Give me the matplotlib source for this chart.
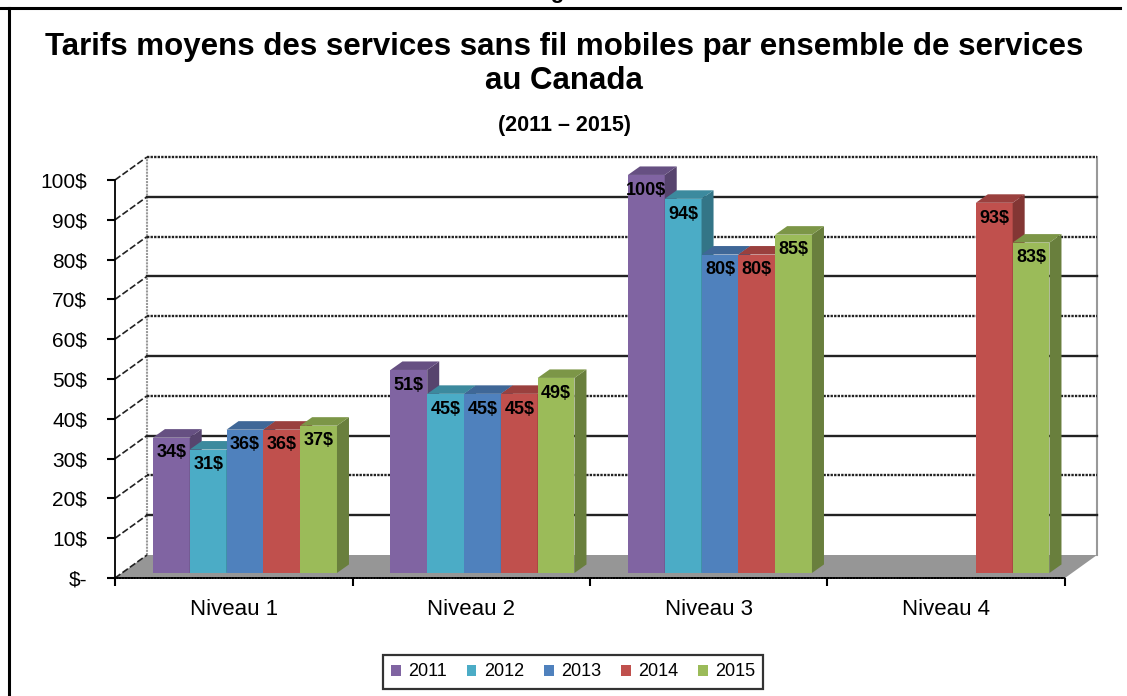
import numpy as np
import matplotlib
matplotlib.use("Agg")
import matplotlib.pyplot as plt
from matplotlib.patches import Polygon, Patch
from matplotlib.colors import to_rgb

plt.rcParams["font.family"] = ["Liberation Sans", "DejaVu Sans"]

# data
levels = ["Niveau 1", "Niveau 2", "Niveau 3", "Niveau 4"]
years = ["2011", "2012", "2013", "2014", "2015"]
tarif_2011 = [34, 51, 100, None]
tarif_2012 = [31, 45, 94, None]
tarif_2013 = [36, 45, 80, None]
tarif_2014 = [36, 45, 80, 93]
tarif_2015 = [37, 49, 85, 83]
series = [tarif_2011, tarif_2012, tarif_2013, tarif_2014, tarif_2015]
colors = ["#8064A2", "#4BACC6", "#4F81BD", "#C0504D", "#9BBB59"]
y_ticks = list(range(0, 101, 10))
y_labels = ["$-"] + [f"{v}$" for v in y_ticks[1:]]

W, H = 1127, 696
fig = plt.figure(figsize=(W / 100, H / 100), dpi=100)

# front plane: x 115..1065 px for 4 categories, y 578..180 px for 0..100
px_per_cat = (1065 - 115) / 4
px_per_val = (578 - 180) / 100
x_max = 4 + (1100 - 1065) / px_per_cat
y_max = (578 - 150) / px_per_val
ax = fig.add_axes([115 / W, (H - 578) / H, (x_max * px_per_cat) / W,
                   (y_max * px_per_val) / H])
ax.set_xlim(0, x_max)
ax.set_ylim(0, y_max)

# depth of the floor / back wall
DX = 32 / px_per_cat
DY = 23 / px_per_val

for s in ["top", "right"]:
    ax.spines[s].set_visible(False)
ax.spines["left"].set_bounds(0, 100)
ax.spines["bottom"].set_bounds(0, 4)
ax.spines["left"].set_linewidth(1.3)
ax.spines["bottom"].set_linewidth(1.3)
ax.spines["bottom"].set_linestyle((0, (1, 0.6)))

ax.set_yticks(y_ticks, labels=y_labels, fontsize=15)
ax.tick_params(axis="y", length=6, width=1.5, pad=14)
ax.set_xticks(range(5), labels=[""] * 5)
ax.set_xticks(np.arange(4) + 0.5, labels=levels, minor=True, fontsize=16)
ax.tick_params(axis="x", which="major", length=6, width=1.5)
ax.tick_params(axis="x", which="minor", length=0, pad=15)

# floor
ax.add_patch(Polygon([(0, 0), (4, 0), (4 + DX, DY), (DX, DY)],
                     closed=True, facecolor="#969696", edgecolor="none",
                     zorder=1))
# back wall edges
ax.plot([DX, DX], [DY, 100 + DY], color="#999999", lw=1.5,
        ls=(0, (1, 0.5)), zorder=1)
ax.plot([4 + DX, 4 + DX], [DY, 100 + DY], color="#999999", lw=1.5, zorder=1)
# gridlines on the back wall and diagonals to the front axis
for i, v in enumerate(y_ticks):
    if v > 0:
        style = (0, (1, 0.5)) if i % 2 == 0 else "-"
        ax.plot([DX, 4 + DX], [v + DY, v + DY], color="#222222", lw=1.7,
                ls=style, zorder=1)
    ax.plot([0, DX], [v, v + DY], color="#222222", lw=1.2,
            ls=(0, (4, 1.5)), zorder=1)


def shade(c, k):
    r, g, b = to_rgb(c)
    return (r * k, g * k, b * k)


# bars
BAR_W = 0.155
START = 0.13
FX, FY = 0.22 * DX, 0.22 * DY
BDX, BDY = 12 / px_per_cat, 8.5 / px_per_val
for j, (vals, col) in enumerate(zip(series, colors)):
    for i, v in enumerate(vals):
        if v is None:
            continue
        x0 = i + START + j * BAR_W + FX
        x1 = x0 + BAR_W
        top = v + FY
        z = 3 + i * 10 + j
        ax.bar(x0, v, width=BAR_W, bottom=FY, align="edge", color=col,
               edgecolor="none", zorder=z)
        ax.add_patch(Polygon([(x1, FY), (x1, top), (x1 + BDX, top + BDY),
                              (x1 + BDX, FY + BDY)], closed=True,
                             facecolor=shade(col, 0.68), edgecolor="none",
                             zorder=z))
        ax.add_patch(Polygon([(x0, top), (x1, top), (x1 + BDX, top + BDY),
                              (x0 + BDX, top + BDY)], closed=True,
                             facecolor=shade(col, 0.8), edgecolor="none",
                             zorder=z))
        ax.annotate(f"{v}$", (x0 + BAR_W / 2, top), xytext=(0, -11),
                    textcoords="offset points", ha="center", va="center",
                    fontsize=13, fontweight="bold", zorder=100)

# titles
fig.text(564 / W, 1 - 47 / H,
         "Tarifs moyens des services sans fil mobiles par ensemble de services",
         ha="center", va="center", fontsize=22.5, fontweight="bold")
fig.text(564 / W, 1 - 81 / H, "au Canada", ha="center", va="center",
         fontsize=22.5, fontweight="bold")
fig.text(564 / W, 1 - 125 / H, "(2011 \u2013 2015)", ha="center",
         va="center", fontsize=15.5, fontweight="bold")
# caption above the frame, mostly cut off
fig.text(565 / W, 1 + 2 / H, "Figure", ha="center", va="baseline",
         fontsize=16, fontweight="bold")

# frame
fig.add_artist(plt.Line2D([0, 1120 / W], [1 - 8 / H, 1 - 8 / H],
                          color="black", lw=2.2))
fig.add_artist(plt.Line2D([9 / W, 9 / W], [0, 1 - 8 / H], color="black",
                          lw=2.2))

handles = [Patch(facecolor=c, edgecolor="none") for c in colors]
leg = fig.legend(handles, years, loc="center", ncol=5,
                 bbox_to_anchor=(573 / W, 1 - 672 / H), fontsize=13,
                 handlelength=0.55, handleheight=0.55, handletextpad=0.4,
                 columnspacing=1.1, frameon=True, fancybox=False,
                 borderpad=0.45)
leg.get_frame().set_edgecolor("black")
leg.get_frame().set_linewidth(1.6)

fig.savefig("out.png", dpi=100)
